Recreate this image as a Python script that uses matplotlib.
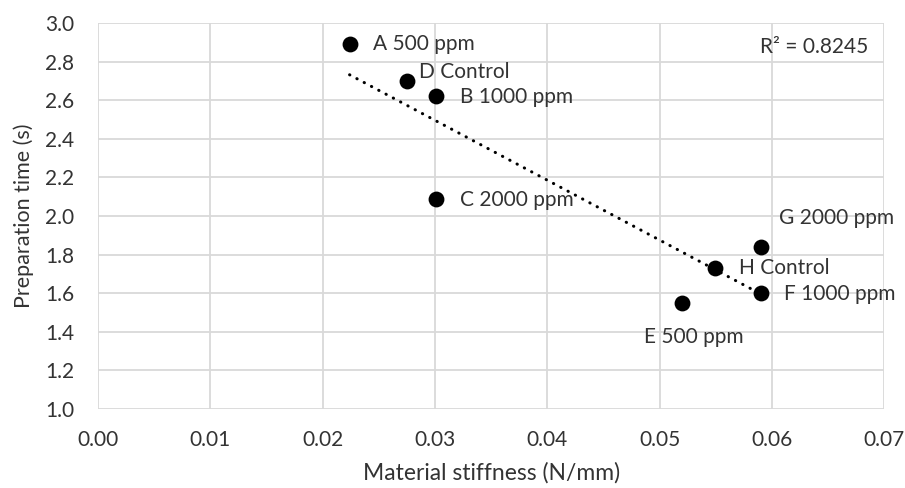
import numpy as np
import matplotlib.pyplot as plt

plt.rcParams["font.family"] = ["Lato", "DejaVu Sans"]

# ===================== 数据 =====================
labels = ["A 500 ppm", "D Control", "B 1000 ppm", "C 2000 ppm",
          "G 2000 ppm", "H Control", "F 1000 ppm", "E 500 ppm"]
stiffness = [0.0224, 0.0275, 0.0301, 0.0301, 0.0590, 0.0549, 0.0590, 0.0520]
prep_time = [2.89, 2.70, 2.62, 2.09, 1.84, 1.73, 1.60, 1.55]
# label offsets in pixels (left edge, vertical centre)
offsets_px = [(23, 0), (12, 9), (24, -1), (24, -1),
              (18, 29), (24, 0), (23, -1), (-38, -34)]
r2_text = "R² = 0.8245"

x = np.array(stiffness)
y = np.array(prep_time)
k, b = np.polyfit(x, y, 1)

txt_col = "#333333"

fig = plt.figure(figsize=(9.05, 4.88), dpi=100)
ax = fig.add_axes([0.1083, 0.1619, 0.8687, 0.791])

ax.scatter(x, y, s=130, color="black", zorder=3, linewidths=0)
xs = np.array([x.min(), x.max()])
ax.plot(xs, k * xs + b, color="black", lw=2.2, ls=(0, (0.1, 2.6)),
        dash_capstyle="round", zorder=2)

for lab, xi, yi, (dx, dy) in zip(labels, x, y, offsets_px):
    ax.annotate(lab, (xi, yi), xytext=(dx * 0.72, dy * 0.72), textcoords="offset points",
                fontsize=15, color=txt_col, ha="left", va="center")

ax.text(0.06857, 2.876, r2_text, fontsize=15, color=txt_col, ha="right", va="center")

ax.set_xlim(0, 0.07)
ax.set_ylim(1.0, 3.0)
xt = np.arange(0, 0.0701, 0.01)
yt = np.arange(1.0, 3.01, 0.2)
ax.set_xticks(xt)
ax.set_yticks(yt)
ax.set_xticklabels([f"{v:.2f}" for v in xt])
ax.set_yticklabels([f"{v:.1f}" for v in yt])
ax.grid(True, color="#d9d9d9", lw=1.3)
for s in ax.spines.values():
    s.set_visible(False)
ax.tick_params(length=0, labelsize=15, labelcolor=txt_col)
ax.tick_params(axis="x", pad=15)
ax.tick_params(axis="y", pad=17)
ax.set_xlabel("Material stiffness (N/mm)", fontsize=16.5, color=txt_col, labelpad=9)
ax.set_ylabel("Preparation time (s)", fontsize=15.5, color=txt_col, labelpad=8)

plt.savefig("out.png", dpi=100)
